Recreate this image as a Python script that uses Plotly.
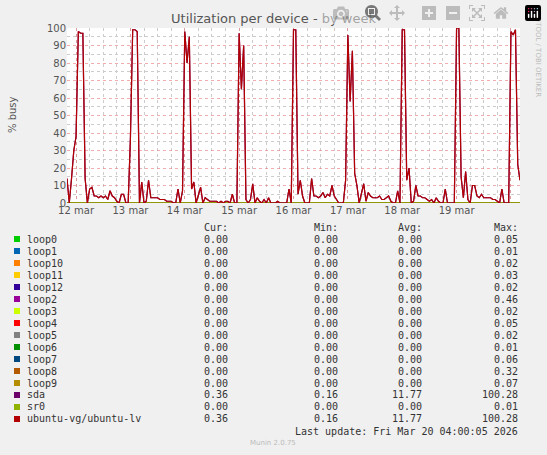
import plotly.graph_objects as go
import pandas as pd

start = "2026-03-11 20:00"
pre = [14, 0, 14, 30]
d12 = [38, 98, 97, 97, 14, 0, 8, 9, 4, 4, 3, 4, 3, 4, 2, 7, 4, 3, 1, 0, 5, 5, 0, 0]
d13 = [37, 99, 99, 98, 0, 12, 0, 1, 13, 3, 3, 3, 3, 2, 2, 2, 1, 1, 1, 0, 0, 8, 0, 7]
d14 = [98, 80, 95, 8, 12, 0, 4, 9, 0, 3, 2, 1, 1, 1, 1, 0, 1, 0, 1, 1, 0, 5, 0, 0]
d15 = [97, 65, 90, 2, 0, 2, 11, 0, 3, 1, 0, 2, 0, 3, 0, 0, 0, 1, 0, 0, 0, 0, 8, 0]
d16 = [99, 99, 5, 13, 4, 0, 0, 0, 14, 4, 4, 3, 4, 6, 3, 5, 4, 10, 4, 2, 0, 0, 0, 13]
d17 = [96, 58, 87, 17, 10, 0, 6, 11, 1, 6, 4, 3, 3, 3, 4, 2, 2, 3, 4, 1, 0, 0, 7, 0]
d18 = [99, 99, 13, 20, 0, 1, 10, 4, 4, 3, 3, 2, 1, 2, 0, 3, 1, 0, 0, 8, 0, 0, 0, 0]
d19 = [100, 100, 15, 3, 18, 2, 0, 10, 10, 4, 3, 5, 3, 3, 3, 3, 2, 2, 1, 0, 8, 0, 0, 0]
d20 = [98, 96, 99, 22, 13]
busy = pre + d12 + d13 + d14 + d15 + d16 + d17 + d18 + d19 + d20
times = pd.date_range(start, periods=len(busy), freq="h")

names = ["loop0", "loop1", "loop10", "loop11", "loop12", "loop2", "loop3", "loop4",
         "loop5", "loop6", "loop7", "loop8", "loop9", "sda", "sr0", "ubuntu-vg/ubuntu-lv"]
colors = ["#00CC00", "#0066B3", "#FF8000", "#FFCC00", "#330099", "#990099", "#CCFF00", "#FF0000",
          "#808080", "#008F00", "#00487D", "#B35A00", "#B38F00", "#6B006B", "#8FB300", "#B30000"]
cur = ["0.00"] * 13 + ["0.36", "0.00", "0.36"]
mins = ["0.00"] * 13 + ["0.16", "0.00", "0.16"]
avgs = ["0.00"] * 13 + ["11.77", "0.00", "11.77"]
maxs = ["0.05", "0.01", "0.02", "0.03", "0.02", "0.46", "0.02", "0.05", "0.02", "0.01",
        "0.06", "0.32", "0.07", "100.28", "0.01", "100.28"]
day_ticks = pd.date_range("2026-03-12", "2026-03-20", freq="D")
day_labels = ["12 mar", "13 mar", "14 mar", "15 mar", "16 mar", "17 mar", "18 mar", "19 mar", ""]

fig = go.Figure()
order = [i for i in range(16) if names[i] not in ("sda", "ubuntu-vg/ubuntu-lv", "sr0")] + [14, 13, 15]
for i in order:
    if names[i] in ("sda", "ubuntu-vg/ubuntu-lv"):
        y = busy
    else:
        y = [0] * len(busy)
    fig.add_trace(go.Scatter(x=times, y=y, mode="lines", line=dict(color=colors[i], width=1.2),
                             showlegend=False, hoverinfo="skip"))

L, R, T, B = 67, 520, 28, 203
def px(xp):
    return (xp - L) / (R - L)
def py(yp):
    return (B - yp) / (B - T)

mono = dict(family="DejaVu Sans Mono", size=10, color="#333")
ann = []
top = 227
row = 12
cols = [(230, "Cur:", cur), (340, "Min:", mins), (424, "Avg:", avgs), (520, "Max:", maxs)]
for x, h, vals in cols:
    ann.append(dict(x=px(x), y=py(top), xref="paper", yref="paper", text=h, showarrow=False,
                    xanchor="right", yanchor="middle", font=mono))
    for k, v in enumerate(vals):
        ann.append(dict(x=px(x), y=py(top + row * (k + 1)), xref="paper", yref="paper", text=v,
                        showarrow=False, xanchor="right", yanchor="middle", font=mono))
shapes = []
for k, n in enumerate(names):
    yc = top + row * (k + 1)
    ann.append(dict(x=px(25), y=py(yc), xref="paper", yref="paper", text=n, showarrow=False,
                    xanchor="left", yanchor="middle", font=mono))
    shapes.append(dict(type="rect", xref="paper", yref="paper", x0=px(14), x1=px(20),
                       y0=py(yc + 3), y1=py(yc - 3), fillcolor=colors[k], line=dict(width=0)))
ann.append(dict(x=px(520), y=py(431), xref="paper", yref="paper", text="Last update: Fri Mar 20 04:00:05 2026",
                showarrow=False, xanchor="right", yanchor="middle", font=mono))
ann.append(dict(x=px(273), y=py(443), xref="paper", yref="paper", text="Munin 2.0.75",
                showarrow=False, xanchor="center", yanchor="middle",
                font=dict(family="DejaVu Sans", size=7, color="#bbb")))
ann.append(dict(x=px(538), y=py(52), xref="paper", yref="paper", text="RRDTOOL / TOBI OETIKER",
                showarrow=False, textangle=90, xanchor="center", yanchor="middle",
                font=dict(family="DejaVu Sans", size=7, color="#bbb")))
ann.append(dict(x=px(12), y=py(115), xref="paper", yref="paper", text="% busy",
                showarrow=False, textangle=-90, xanchor="center", yanchor="middle",
                font=dict(family="DejaVu Sans", size=10, color="#555")))

fig.update_layout(
    width=547, height=455, margin=dict(l=L, r=547 - R, t=T, b=455 - B),
    paper_bgcolor="#F0F0F0", plot_bgcolor="#FFFFFF",
    title=dict(text="Utilization per device - by week", x=0.5, xanchor="center", y=1 - 18 / 455,
               yanchor="middle", font=dict(family="DejaVu Sans", size=13, color="#555")),
    annotations=ann, shapes=shapes,
    xaxis=dict(range=[times[0], times[-1]], tickvals=day_ticks, ticktext=day_labels,
               ticklabelmode="period", showgrid=True, gridcolor="rgba(230,120,120,0.6)", griddash="dot",
               gridwidth=1, ticks="", zeroline=False, showline=False,
               tickfont=dict(family="DejaVu Sans", size=10, color="#555"),
               minor=dict(dtick=6 * 3600000, tick0="2026-03-12", showgrid=True,
                          gridcolor="#ccc", griddash="dot", gridwidth=1)),
    yaxis=dict(range=[0, 100], dtick=10, showgrid=True, gridcolor="rgba(230,120,120,0.6)", griddash="dot",
               ticks="", zeroline=False, tickfont=dict(family="DejaVu Sans", size=10, color="#555"),
               minor=dict(dtick=5, showgrid=True, gridcolor="#ccc", griddash="dot")),
)
fig.write_html("out.html", post_script="document.body.style.margin='0';document.body.style.overflow='hidden';")
